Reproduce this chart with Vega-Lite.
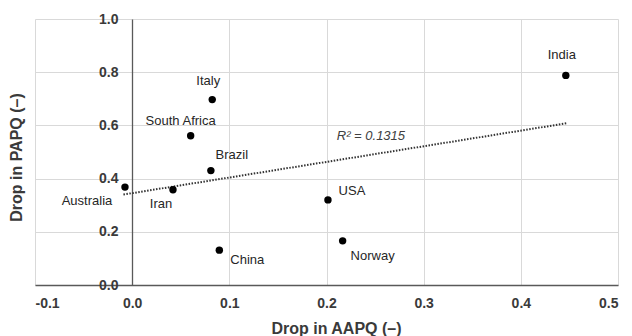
{
  "$schema": "https://vega.github.io/schema/vega-lite/v6.json",
  "width": 583,
  "height": 266,
  "autosize": "none",
  "padding": {"left": 35, "top": 19, "right": 14, "bottom": 51},
  "background": "white",
  "config": {
    "view": {"stroke": null},
    "font": "Liberation Sans",
    "axis": {"gridColor": "#d9d9d9", "gridWidth": 1, "ticks": false, "labelFont": "Liberation Sans", "titleFont": "Liberation Sans"}
  },
  "datasets": {
    "pts": [
      {"country": "Australia", "aapq": -0.0074, "papq": 0.368},
      {"country": "Iran", "aapq": 0.042, "papq": 0.358},
      {"country": "Brazil", "aapq": 0.081, "papq": 0.430},
      {"country": "China", "aapq": 0.0897, "papq": 0.131},
      {"country": "USA", "aapq": 0.2015, "papq": 0.320},
      {"country": "Norway", "aapq": 0.2166, "papq": 0.166},
      {"country": "Italy", "aapq": 0.0824, "papq": 0.697},
      {"country": "South Africa", "aapq": 0.0602, "papq": 0.561},
      {"country": "India", "aapq": 0.4463, "papq": 0.788}
    ],
    "trend": [
      {"aapq": -0.009, "papq": 0.340},
      {"aapq": 0.447, "papq": 0.608}
    ]
  },
  "layer": [
    {
      "data": {"name": "trend"},
      "mark": {"type": "line", "color": "#333333", "strokeWidth": 2, "strokeDash": [1.5, 1.5]},
      "encoding": {
        "x": {"field": "aapq", "type": "quantitative",
          "scale": {"domain": [-0.1, 0.5], "nice": false, "zero": false},
          "axis": {"values": [-0.1, 0, 0.1, 0.2, 0.3, 0.4, 0.5],
            "labelExpr": "datum.value < 0 ? '-' + format(-datum.value, '.1f') : format(datum.value, '.1f')",
            "title": "Drop in AAPQ (–)",
            "labelFontSize": 14, "labelFontWeight": "bold", "labelColor": "#3a3a3a", "labelPadding": 11,
            "domainColor": "#595959", "domainWidth": 1.3,
            "titleFontSize": 16, "titleFontWeight": "bold", "titleColor": "#3a3a3a",
            "titleX": 301, "titleY": 48, "titleBaseline": "alphabetic", "titleAlign": "center", "titleAnchor": null}},
        "y": {"field": "papq", "type": "quantitative",
          "scale": {"domain": [0, 1], "nice": false},
          "axis": {"values": [0, 0.2, 0.4, 0.6, 0.8, 1.0], "format": ".1f", "title": "Drop in PAPQ (–)",
            "offset": -97, "labelFontSize": 14, "labelFontWeight": "bold", "labelColor": "#3a3a3a", "labelPadding": 14,
            "domainColor": "#595959", "domainWidth": 1.3,
            "titleFontSize": 16, "titleFontWeight": "bold", "titleColor": "#3a3a3a",
            "titleX": -116, "titleY": 138, "titleAngle": -90, "titleBaseline": "middle", "titleAlign": "center", "titleAnchor": null}}
      }
    },
    {
      "data": {"name": "pts"},
      "mark": {"type": "circle", "color": "#000000", "opacity": 1, "size": 55},
      "encoding": {
        "x": {"field": "aapq", "type": "quantitative"},
        "y": {"field": "papq", "type": "quantitative"}
      }
    },
    {
      "data": {"name": "pts"},
      "transform": [{"filter": "datum.country === 'Australia'"}],
      "mark": {"type": "text", "fontSize": 13, "color": "#262626", "dx": -38, "dy": 14},
      "encoding": {"x": {"field": "aapq", "type": "quantitative"}, "y": {"field": "papq", "type": "quantitative"}, "text": {"field": "country"}}
    },
    {
      "data": {"name": "pts"},
      "transform": [{"filter": "datum.country === 'Iran'"}],
      "mark": {"type": "text", "fontSize": 13, "color": "#262626", "dx": -12, "dy": 14},
      "encoding": {"x": {"field": "aapq", "type": "quantitative"}, "y": {"field": "papq", "type": "quantitative"}, "text": {"field": "country"}}
    },
    {
      "data": {"name": "pts"},
      "transform": [{"filter": "datum.country === 'Brazil'"}],
      "mark": {"type": "text", "fontSize": 13, "color": "#262626", "dx": 21, "dy": -16},
      "encoding": {"x": {"field": "aapq", "type": "quantitative"}, "y": {"field": "papq", "type": "quantitative"}, "text": {"field": "country"}}
    },
    {
      "data": {"name": "pts"},
      "transform": [{"filter": "datum.country === 'China'"}],
      "mark": {"type": "text", "fontSize": 13, "color": "#262626", "dx": 28, "dy": 10},
      "encoding": {"x": {"field": "aapq", "type": "quantitative"}, "y": {"field": "papq", "type": "quantitative"}, "text": {"field": "country"}}
    },
    {
      "data": {"name": "pts"},
      "transform": [{"filter": "datum.country === 'USA'"}],
      "mark": {"type": "text", "fontSize": 13, "color": "#262626", "dx": 24, "dy": -9},
      "encoding": {"x": {"field": "aapq", "type": "quantitative"}, "y": {"field": "papq", "type": "quantitative"}, "text": {"field": "country"}}
    },
    {
      "data": {"name": "pts"},
      "transform": [{"filter": "datum.country === 'Norway'"}],
      "mark": {"type": "text", "fontSize": 13, "color": "#262626", "dx": 30, "dy": 15},
      "encoding": {"x": {"field": "aapq", "type": "quantitative"}, "y": {"field": "papq", "type": "quantitative"}, "text": {"field": "country"}}
    },
    {
      "data": {"name": "pts"},
      "transform": [{"filter": "datum.country === 'Italy'"}],
      "mark": {"type": "text", "fontSize": 13, "color": "#262626", "dx": -4, "dy": -19},
      "encoding": {"x": {"field": "aapq", "type": "quantitative"}, "y": {"field": "papq", "type": "quantitative"}, "text": {"field": "country"}}
    },
    {
      "data": {"name": "pts"},
      "transform": [{"filter": "datum.country === 'South Africa'"}],
      "mark": {"type": "text", "fontSize": 13, "color": "#262626", "dx": -10, "dy": -15},
      "encoding": {"x": {"field": "aapq", "type": "quantitative"}, "y": {"field": "papq", "type": "quantitative"}, "text": {"field": "country"}}
    },
    {
      "data": {"name": "pts"},
      "transform": [{"filter": "datum.country === 'India'"}],
      "mark": {"type": "text", "fontSize": 13, "color": "#262626", "dx": -4, "dy": -20},
      "encoding": {"x": {"field": "aapq", "type": "quantitative"}, "y": {"field": "papq", "type": "quantitative"}, "text": {"field": "country"}}
    },
    {
      "data": {"values": [{}]},
      "mark": {"type": "text", "fontSize": 13, "fontStyle": "italic", "color": "#404040", "text": "R² = 0.1315"},
      "encoding": {"x": {"datum": 0.2457}, "y": {"datum": 0.5586}}
    }
  ]
}
